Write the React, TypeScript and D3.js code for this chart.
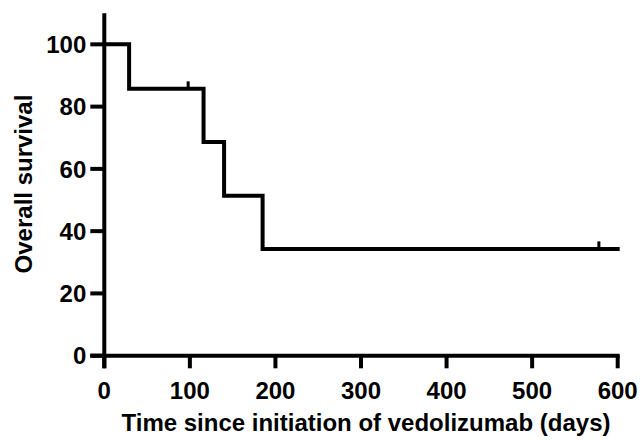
import React from "react";
import * as d3 from "d3";

const stepTimes = [0, 29, 116, 140, 185, 600];
const stepSurvival = [100, 85.7, 68.6, 51.4, 34.3, 34.3];
const censorTimes = [98, 578];
const censorSurvival = [85.7, 34.3];
const xTicks = [0, 100, 200, 300, 400, 500, 600];
const yTicks = [0, 20, 40, 60, 80, 100];
const xTitle = "Time since initiation of vedolizumab (days)";
const yTitle = "Overall survival";

const W = 641;
const H = 440;
const font = "'Liberation Sans', Arial, Helvetica, sans-serif";

export default function App() {
  const x = d3.scaleLinear().domain([0, 600]).range([104.3, 617.7]);
  const y = d3.scaleLinear().domain([0, 110]).range([355.7, 13.2]);
  const pts: [number, number][] = stepTimes.map((t, i) => [t, stepSurvival[i]]);
  const line = d3
    .line<[number, number]>()
    .x((d) => x(d[0]))
    .y((d) => y(d[1]))
    .curve(d3.curveStepAfter);
  const sw = 4;
  return (
    <svg
      width={W}
      height={H}
      style={{ position: "absolute", left: 0, top: 0, background: "#fff" }}
      fontFamily={font}
      fontWeight="bold"
    >
      {/* y axis */}
      <line x1={x(0)} x2={x(0)} y1={y(110)} y2={y(0) + 12.6} stroke="#000" strokeWidth={sw} />
      {yTicks.map((t) => (
        <g key={"y" + t}>
          <line x1={x(0) - 14} x2={x(0)} y1={y(t)} y2={y(t)} stroke="#000" strokeWidth={sw} />
          <text x={x(0) - 18} y={y(t)} dy="0.36em" textAnchor="end" fontSize={24} fill="#000">
            {t}
          </text>
        </g>
      ))}
      {/* x axis */}
      <line x1={x(0) - 14} x2={x(600) + sw / 2} y1={y(0)} y2={y(0)} stroke="#000" strokeWidth={sw} />
      {xTicks.map((t) => (
        <g key={"x" + t}>
          <line x1={x(t)} x2={x(t)} y1={y(0)} y2={y(0) + 12.6} stroke="#000" strokeWidth={sw} />
          <text x={x(t)} y={399} textAnchor="middle" fontSize={24} fill="#000">
            {t}
          </text>
        </g>
      ))}
      {/* curve */}
      <path d={line(pts) || ""} fill="none" stroke="#000" strokeWidth={sw} strokeLinejoin="miter" strokeLinecap="square" />
      {censorTimes.map((t, i) => (
        <line
          key={"c" + i}
          x1={x(t)}
          x2={x(t)}
          y1={y(censorSurvival[i])}
          y2={y(censorSurvival[i]) - 7.5}
          stroke="#000"
          strokeWidth={3}
        />
      ))}
      <text x={366} y={431} textAnchor="middle" fontSize={24} fill="#000">
        {xTitle}
      </text>
      <text
        transform={`translate(32,${184}) rotate(-90)`}
        textAnchor="middle"
        fontSize={24}
        fill="#000"
      >
        {yTitle}
      </text>
    </svg>
  );
}
